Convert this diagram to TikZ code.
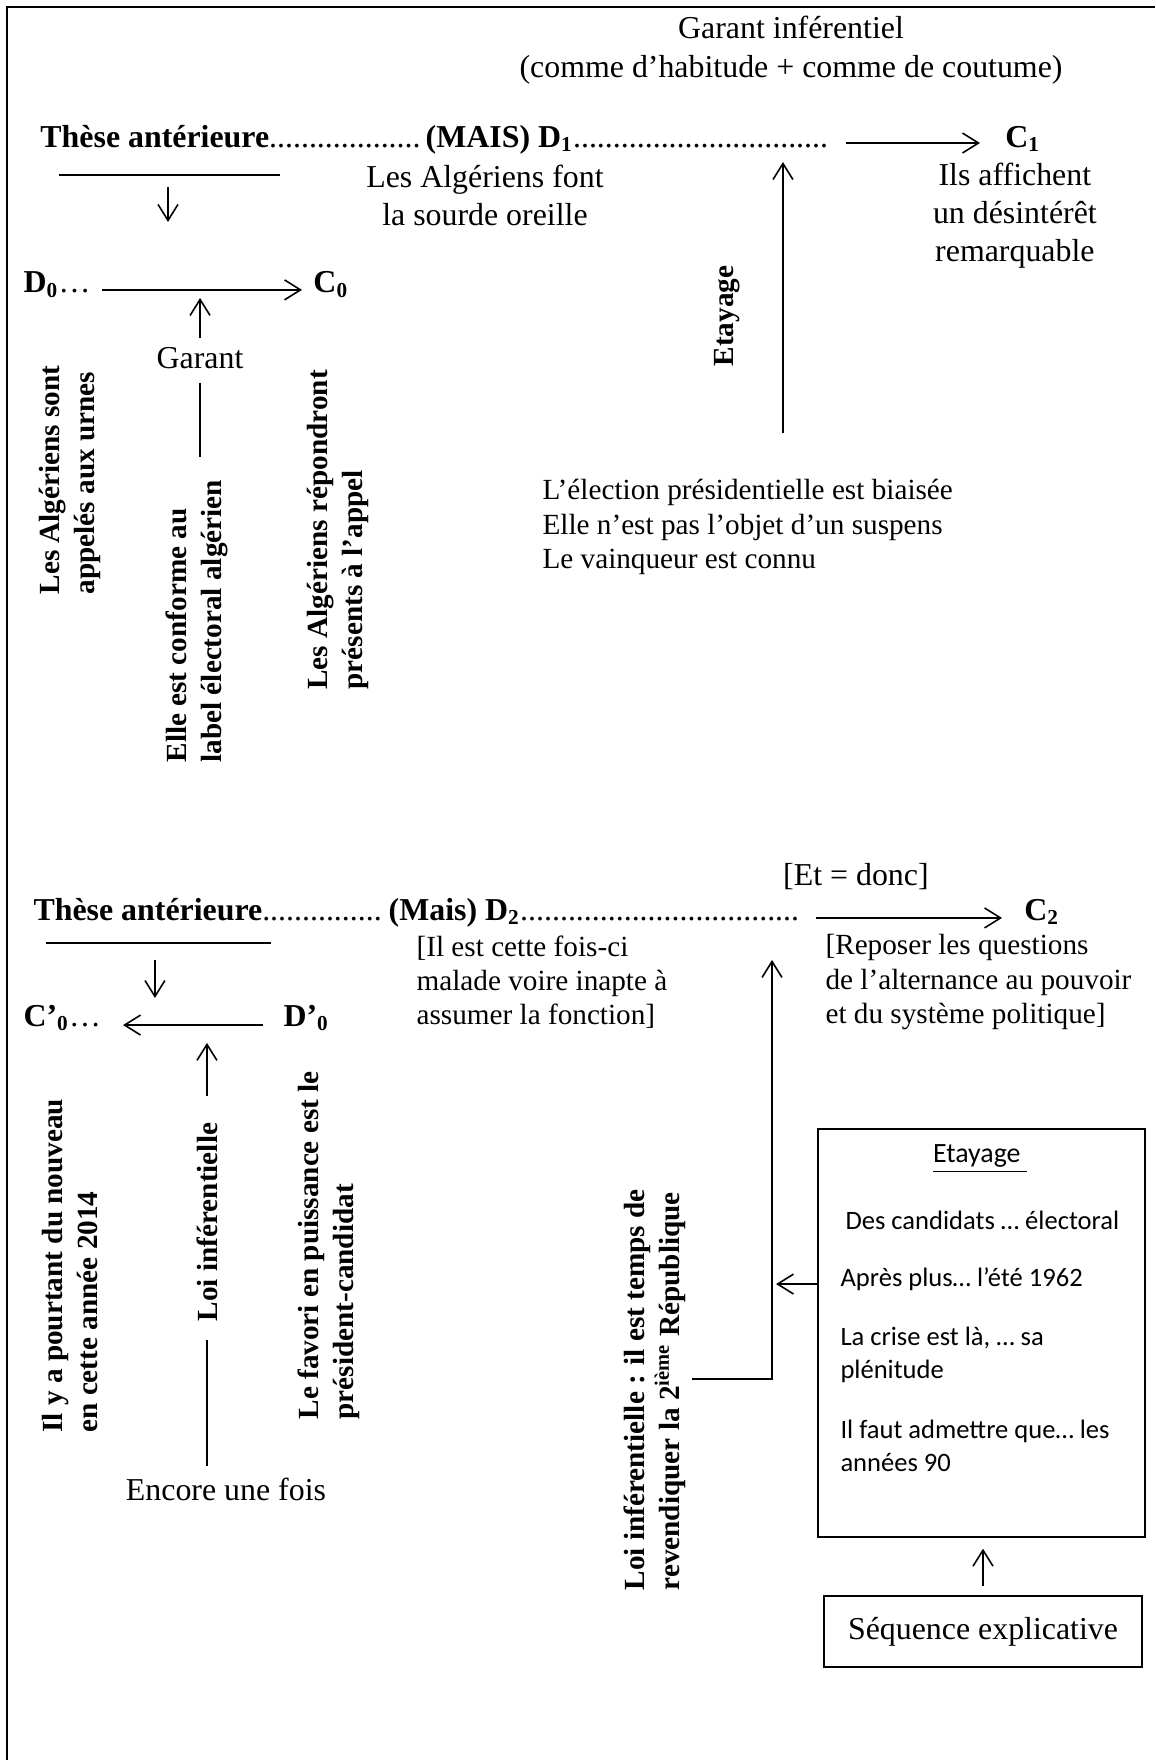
\documentclass[tikz,border=0pt]{standalone}
\usepackage{fontspec}
\setmainfont{Liberation Serif}
\newfontfamily\calibfont{Carlito}
\usepackage{tikz}
\usetikzlibrary{calc,positioning,arrows.meta}
\newcommand{\dotsrun}[1]{{\mdseries\makebox[#1]{\leaders\hbox{.}\hfill}}}

\begin{document}
\begin{tikzpicture}[x=1in,y=-1in,
  txt/.style={inner sep=0pt,font=\fontsize{12}{14.25}\selectfont},
  btxt/.style={inner sep=0pt,font=\fontsize{12}{14.25}\selectfont\bfseries},
  stxt/.style={inner sep=0pt,font=\fontsize{11}{12.9}\selectfont,anchor=west,align=left},
  vtxt/.style={inner sep=0pt,font=\fontsize{11}{13.1}\selectfont\bfseries,rotate=90,anchor=west,align=left},
  boxtxt/.style={inner sep=0pt,font=\calibfont\fontsize{10}{12.4}\selectfont,anchor=west,align=left},
  arr/.style={-{Straight Barb[length=6pt,width=7.5pt]},line width=.6pt},
  rule/.style={line width=.6pt},
  boxed/.style={draw,line width=.8pt,inner sep=0pt}]
\useasboundingbox (0,0) rectangle (6.016,9.167);
% page frame
\draw[line width=1pt] (0.036,9.167) -- (0.036,0.036) -- (6.016,0.036);

% --- first sequence
\node[txt,align=center,font=\fontsize{12}{14.6}\selectfont] (garinf) at (4.12,0.261) {Garant inférentiel\\(comme d’habitude + comme de coutume)};
\node[btxt,anchor=base west] (row1) at (0.208,0.766) {Thèse antérieure\dotsrun{58.9pt}(MAIS) D\textsubscript{1}\dotsrun{98.2pt}};
\node[btxt,anchor=base west] (c1) at (5.234,0.766) {C\textsubscript{1}};
\coordinate (a1s) at (4.406,0.745);
\coordinate (a1e) at (5.104,0.745);
\draw[arr] (a1s) -- (a1e);
\node[txt,align=center] (d1txt) at (2.526,1.018) {Les Algériens font\\la sourde oreille};
\node[txt,align=center] (c1txt) at (5.286,1.125) {Ils affichent\\un désintérêt\\remarquable};
\draw[rule] (0.307,0.911) -- (1.458,0.911);
\coordinate (th1s) at (0.875,0.974);
\coordinate (th1e) at (0.875,1.156);
\draw[arr] (th1s) -- (th1e);

\node[btxt,anchor=base west] (d0) at (0.120,1.526) {D\textsubscript{0}{\mdseries\ldots}};
\node[btxt,anchor=base west] (c0) at (1.630,1.526) {C\textsubscript{0}};
\coordinate (a0s) at (0.531,1.510);
\coordinate (a0e) at (1.573,1.510);
\draw[arr] (a0s) -- (a0e);
\node[txt] (garant) at (1.042,1.865) {Garant};
\coordinate (g0top) at (1.042,1.552);
\coordinate (g0bot) at (1.042,2.380);
\draw[arr,shorten <=3.2pt] (garant.north) -- (g0top);
\draw[rule,shorten <=5pt] (garant.south) -- (g0bot);
\node[vtxt] (appel) at (0.365,3.099) {Les Algériens sont\\appelés aux urnes};
\node[vtxt] (label) at (1.026,3.974) {Elle est conforme au\\label électoral algérien};
\node[vtxt] (repond) at (1.760,3.594) {Les Algériens répondront\\présents à l’appel};

\node[vtxt,anchor=center] (etay1) at (3.786,1.646) {Etayage};
\coordinate (et1b) at (4.078,2.255);
\coordinate (et1t) at (4.078,0.844);
\draw[arr] (et1b) -- (et1t);
\node[stxt] (biais) at (2.823,2.745) {L’élection présidentielle est biaisée\\Elle n’est pas l’objet d’un suspens\\Le vainqueur est connu};

% --- second sequence
\node[txt] (etdonc) at (4.458,4.568) {[Et = donc]};
\node[btxt,anchor=base west] (row2) at (0.172,4.792) {Thèse antérieure\dotsrun{47.6pt}(Mais) D\textsubscript{2}\dotsrun{106.5pt}};
\node[btxt,anchor=base west] (c2) at (5.333,4.792) {C\textsubscript{2}};
\coordinate (a2s) at (4.250,4.781);
\coordinate (a2e) at (5.219,4.781);
\draw[arr] (a2s) -- (a2e);
\node[stxt] (malade) at (2.167,5.115) {[Il est cette fois-ci\\malade voire inapte à\\assumer la fonction]};
\node[stxt] (reposer) at (4.297,5.115) {[Reposer les questions\\de l’alternance au pouvoir\\et du système politique]};
\draw[rule] (0.240,4.911) -- (1.411,4.911);
\coordinate (th2s) at (0.807,5.000);
\coordinate (th2e) at (0.807,5.198);
\draw[arr] (th2s) -- (th2e);

\node[btxt,anchor=base west] (c0p) at (0.120,5.344) {C’\textsubscript{0}{\mdseries\ldots}};
\node[btxt,anchor=base west] (d0p) at (1.474,5.344) {D’\textsubscript{0}};
\coordinate (a3s) at (1.370,5.339);
\coordinate (a3e) at (0.641,5.339);
\draw[arr] (a3s) -- (a3e);
\node[vtxt,anchor=center] (loi) at (1.078,6.365) {Loi inférentielle};
\node[txt] (encore) at (1.177,7.760) {Encore une fois};
\coordinate (loitip) at (1.078,5.432);
\draw[arr,shorten <=10pt] (loi.east) -- (loitip);
\draw[rule,shorten <=6.75pt,shorten >=4.5pt] (loi.west) -- (loi.west |- encore.north);
\node[vtxt] (nouveau) at (0.365,7.464) {Il y a pourtant du nouveau\\en cette année 2014};
\node[vtxt] (favori) at (1.714,7.396) {Le favori en puissance est le\\président-candidat};

\node[vtxt] (loi2) at (3.411,8.286) {Loi inférentielle : il est temps de\\revendiquer la 2\textsuperscript{ième} République};
\coordinate (loi2out) at (3.604,7.182);
\coordinate (c2tip) at (4.021,5.000);
\draw[arr] (loi2out) -| (c2tip);

% Etayage box
\node[boxed,minimum width=1.703in,minimum height=2.125in] (etaybox) at (5.112,6.943) {};
\node[boxtxt,anchor=center,font=\calibfont\fontsize{10.5}{12.4}\selectfont] (etaytitle) at (5.104,6.036) {\underline{Etayage\ }};
\node[boxtxt] (cand) at (4.401,6.354) {Des candidats … électoral};
\node[boxtxt] (apres) at (4.375,6.661) {Après plus… l’été 1962};
\node[boxtxt] (crise) at (4.375,7.055) {La crise est là, … sa\\plénitude};
\node[boxtxt] (admet) at (4.375,7.531) {Il faut admettre que… les\\années 90};
\coordinate (boxarr) at (4.042,6.688);
\draw[arr] (etaybox.west |- boxarr) -- (boxarr);
\node[boxed,txt,minimum width=1.656in,minimum height=0.370in] (seq) at (5.120,8.497) {Séquence explicative};
\draw[arr,shorten <=3.4pt,shorten >=4pt] (seq.north) -- (seq.north |- etaybox.south);
\end{tikzpicture}
\end{document}
